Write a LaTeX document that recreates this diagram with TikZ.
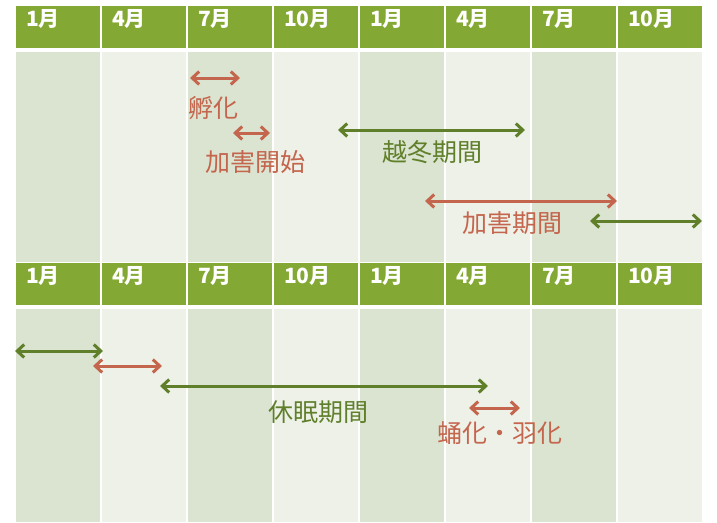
\documentclass[tikz,border=0pt]{standalone}
\usepackage{fontspec}
\setmainfont{Noto Sans CJK JP}
\usetikzlibrary{arrows.meta}
\definecolor{hdr}{HTML}{84A834}
\definecolor{cdark}{HTML}{DBE4D0}
\definecolor{clight}{HTML}{EEF1E8}
\definecolor{rd}{HTML}{C4654D}
\definecolor{gr}{HTML}{5F7F2A}
\tikzset{
 hlabel/.style={anchor=west,text=white,font=\fontsize{21}{21}\selectfont\bfseries,inner sep=0},
 lbl/.style={font=\fontsize{25}{25}\selectfont,inner sep=0},
 arr/.style={{Straight Barb[length=7pt,width=13pt]}-{Straight Barb[length=7pt,width=13pt]},line width=3pt}
}
\begin{document}
\begin{tikzpicture}[x=1pt,y=-1pt]
\useasboundingbox (0,0) rectangle (717,522);
\fill[white] (0,0) rectangle (717,522);
\foreach \p/\ht/\hb/\bt/\bb in {0/6/48/52/262,1/263/305/309/522}{
 \foreach \i/\m in {0/1,1/4,2/7,3/10,4/1,5/4,6/7,7/10}{
  \pgfmathsetmacro\xa{15+86*\i+1}
  \pgfmathsetmacro\xb{15+86*(\i+1)-1}
  \fill[hdr] (\xa,\ht) rectangle (\xb,\hb);
  \node[hlabel] at (\xa+10,{(\ht+\hb)/2}) {\m 月};
  \pgfmathparse{mod(\i,2)==0?"cdark":"clight"}
  \fill[\pgfmathresult] (\xa,\bt) rectangle (\xb,\bb);
 }
}
% top panel
\coordinate (a1) at (190,78); \coordinate (a2) at (240,78);
\draw[arr,rd] (a1) -- (a2);
\node[lbl,text=rd] (t1) at (213,108) {孵化};
\coordinate (b1) at (233,133); \coordinate (b2) at (270,133);
\draw[arr,rd] (b1) -- (b2);
\node[lbl,text=rd] (t2) at (255,162) {加害開始};
\coordinate (c1) at (338,130); \coordinate (c2) at (525,130);
\draw[arr,gr] (c1) -- (c2);
\node[lbl,text=gr] (t3) at (432,152) {越冬期間};
\coordinate (d1) at (425,201); \coordinate (d2) at (617,201);
\draw[arr,rd] (d1) -- (d2);
\node[lbl,text=rd] (t4) at (512,223) {加害期間};
\coordinate (e1) at (590,221); \coordinate (e2) at (702,221);
\draw[arr,gr] (e1) -- (e2);
% bottom panel
\coordinate (f1) at (15,351); \coordinate (f2) at (103,351);
\draw[arr,gr] (f1) -- (f2);
\coordinate (g1) at (93,366); \coordinate (g2) at (162,366);
\draw[arr,rd] (g1) -- (g2);
\coordinate (h1) at (160,386); \coordinate (h2) at (488,386);
\draw[arr,gr] (h1) -- (h2);
\node[lbl,text=gr] (t5) at (318,412) {休眠期間};
\coordinate (i1) at (469,408); \coordinate (i2) at (520,408);
\draw[arr,rd] (i1) -- (i2);
\node[lbl,text=rd] (t6) at (500,433) {蛹化・羽化};
\end{tikzpicture}
\end{document}
